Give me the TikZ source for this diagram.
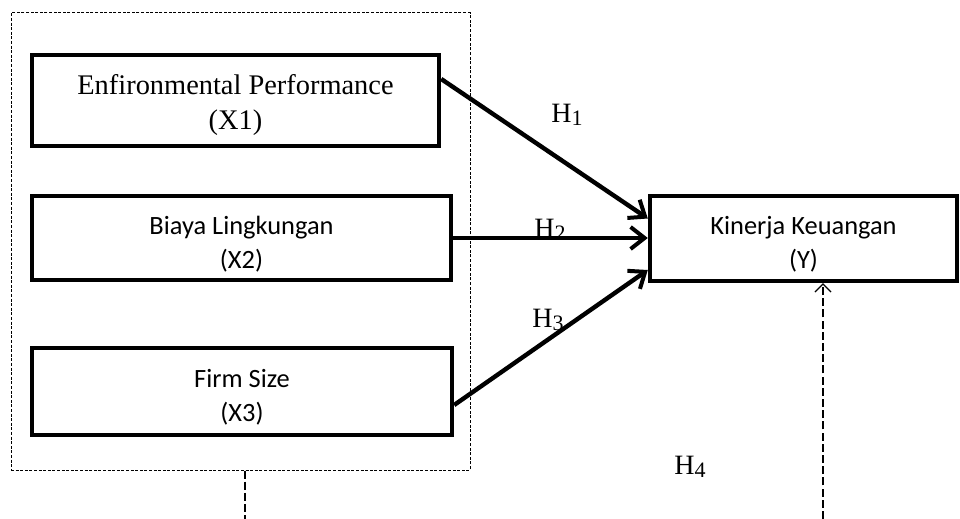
\documentclass[tikz,border=0pt]{standalone}
\usepackage{fontspec}
\setmainfont{Liberation Serif}
\newfontfamily\calib{Carlito}
\usetikzlibrary{arrows.meta,calc}
\begin{document}
\begin{tikzpicture}[x=0.5pt,y=-0.5pt,
  varbox/.style={draw=black,line width=2.2pt,rectangle,inner sep=0pt},
  sanstext/.style={inner sep=0pt,align=center,font=\calib\fontsize{13.2}{16.8}\selectfont},
  seriftext/.style={inner sep=0pt,align=center,font=\fontsize{14.2}{17.5}\selectfont},
  hyparrow/.style={line width=2.2pt,-{Straight Barb[length=7pt,width=11pt,line width=2pt]}},
  hlabel/.style={font=\fontsize{14}{16}\selectfont,inner sep=0pt},
  groupbox/.style={draw=black,line width=0.5pt,dash pattern=on 1.5pt off 0.8pt},
  longdash/.style={draw=black,line width=0.6pt,dash pattern=on 4pt off 1.6pt}
]
\useasboundingbox (0,0) rectangle (960,519);
\node[groupbox,minimum width=229.5pt,minimum height=228.5pt,inner sep=0pt] (G) at (240.5,241.5) {};
\node[varbox,minimum width=203.5pt,minimum height=45.5pt] (X1) at (235.5,100.5) {};
\node[varbox,minimum width=209.5pt,minimum height=42pt] (X2) at (241.5,238) {};
\node[varbox,minimum width=210pt,minimum height=43.5pt] (X3) at (242,391.5) {};
\node[varbox,minimum width=153.5pt,minimum height=42.5pt] (Y) at (803.5,238.5) {};
\node[seriftext] (X1t) at ([yshift=-2.5pt]X1.center) {Enfironmental Performance\\(X1)};
\node[sanstext] (X2t) at ([yshift=-3.2pt]X2.center) {Biaya Lingkungan\\(X2)};
\node[sanstext] (X3t) at ([yshift=-2.8pt]X3.center) {Firm Size\\(X3)};
\node[sanstext] (Yt) at ([yshift=-3pt]Y.center) {Kinerja Keuangan\\(Y)};
\draw[hyparrow] ([yshift=10.75pt]X1.east) -- ([yshift=10pt]Y.west);
\draw[hyparrow] (X2.east) -- (X2.east -| Y.west);
\draw[hyparrow] ([yshift=-6.75pt]X3.east) -- ([yshift=-15.75pt]Y.west);
\node[hlabel] (h1) at (567,115) {H\raisebox{-0.25ex}{\fontsize{11}{12}\selectfont 1}};
\node[hlabel] (h2) at (550,230) {H\raisebox{-0.25ex}{\fontsize{11}{12}\selectfont 2}};
\node[hlabel] (h3) at (548,320) {H\raisebox{-0.25ex}{\fontsize{11}{12}\selectfont 3}};
\node[hlabel] (h4) at (690,467) {H\raisebox{-0.25ex}{\fontsize{11}{12}\selectfont 4}};
\coordinate (gb) at (245,519);
\coordinate (yb) at (823,519);
\draw[longdash] (G.south -| gb) -- (gb);
\draw[longdash,-{Straight Barb[length=4pt,width=8pt,line width=0.6pt]}] (yb) -- (yb |- Y.south);
\end{tikzpicture}
\end{document}
